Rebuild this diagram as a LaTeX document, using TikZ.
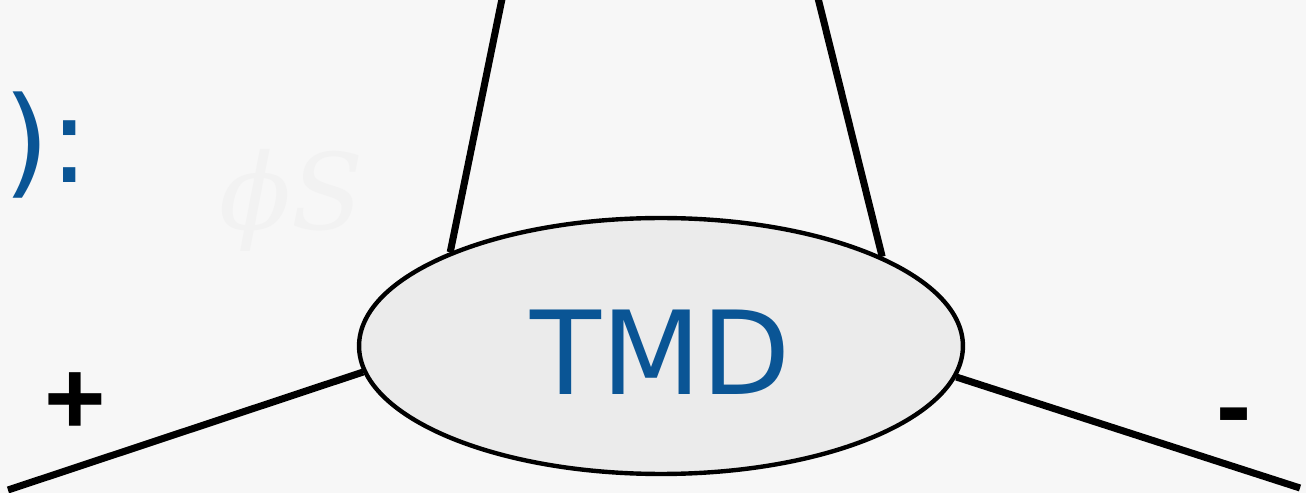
\documentclass[tikz,border=0pt]{standalone}
\usepackage{fontspec}
\setmainfont{DejaVu Sans}
\newfontfamily\signfont{Liberation Sans}
\newfontfamily\ghostfont{DejaVu Serif}
\usepackage{tikz}
\usetikzlibrary{shapes.geometric, positioning, calc}
\definecolor{tmdblue}{HTML}{0A5595}
\definecolor{bgcol}{HTML}{F7F7F7}
\definecolor{blobfill}{HTML}{EBEBEB}

\begin{document}
\begin{tikzpicture}[
  x=0.02cm, y=-0.02cm,
  blob/.style={
    ellipse, draw=black, fill=blobfill,
    minimum width=12.08cm, minimum height=5.12cm,
    inner sep=0pt, line width=2.5pt
  },
  leg/.style={line width=4pt, black},
  sign/.style={font=\signfont\bfseries\fontsize{60}{60}\selectfont, inner sep=0pt},
  ghost/.style={text=black!5, font=\ghostfont\itshape\fontsize{60}{60}\selectfont, inner sep=0pt}
]

%% Background
\fill[bgcol] (0,0) rectangle (1306,493);
\useasboundingbox (0,0) rectangle (1306,493);

%% Faded leftovers
\node[ghost] (phis) at (292,200) {ϕS};

%% Blue fragment
\node[text=tmdblue, font=\fontsize{68}{68}\selectfont, inner sep=0pt, anchor=west]
  (frag) at (3,145) {):};

%% TMD blob
\node[blob] (tmd) at (661,346) {};
\node[text=tmdblue, font=\fontsize{66}{66}\selectfont, inner sep=0pt]
  (tmdlbl) at (661,352) {TMD};

%% Free ends
\coordinate (tl) at (503,-6);
\coordinate (tr) at (817,-6);
\coordinate (bl) at (8,490);
\coordinate (br) at (1300,488);

%% Legs
\draw[leg] (tmd.156.7) -- (tl);
\draw[leg] (tmd.22.8)  -- (tr);
\draw[leg] (tmd.185.5) -- (bl);
\draw[leg] (tmd.-6)    -- (br);

%% Signs
\node[sign] (plus)  at (75,404) {+};
\node[sign] (minus) at (1234,425) {-};

\end{tikzpicture}
\end{document}
